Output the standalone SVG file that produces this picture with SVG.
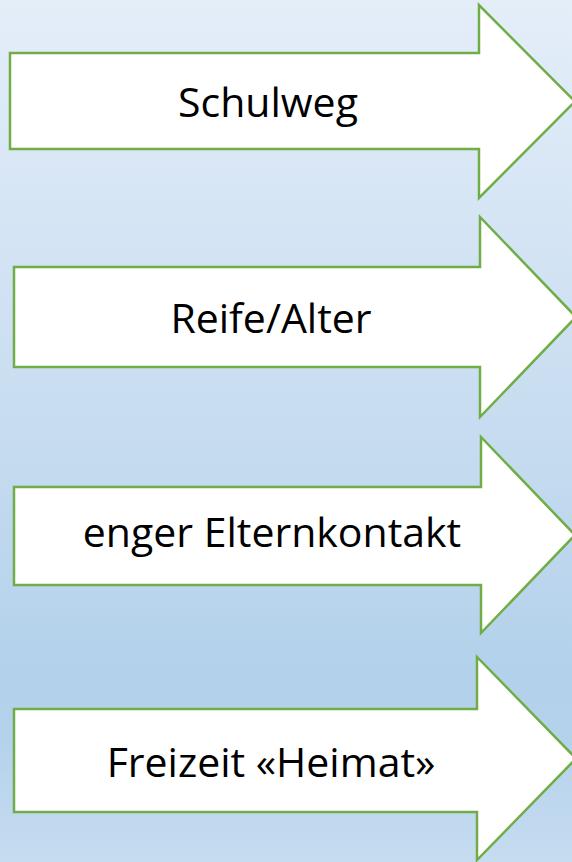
<svg xmlns="http://www.w3.org/2000/svg" width="572" height="862" viewBox="0 0 572 862">
<defs>
<linearGradient id="bg" x1="0" y1="0" x2="0" y2="1">
<stop offset="0" stop-color="#e4eef9"/>
<stop offset="0.5" stop-color="#c7dcf0"/>
<stop offset="0.78" stop-color="#b3d1eb"/>
<stop offset="0.86" stop-color="#b5d2ec"/>
<stop offset="1" stop-color="#c6dcf0"/>
</linearGradient>
<style>
.arrow{fill:#ffffff;stroke:#70ad47;stroke-width:2.5;stroke-linejoin:miter}
.label{font-family:"Open Sans","DejaVu Sans",sans-serif;font-size:41px;fill:#000000;text-anchor:middle}
</style>
</defs>
<rect x="0" y="0" width="572" height="862" fill="url(#bg)"/>
<g id="connectors"/>
<g id="node-schulweg">
<path class="arrow" d="M10,53 H479 V5 L575,101.5 L479,198 V149 H10 Z"/>
<text class="label" x="268" y="117">Schulweg</text>
</g>
<g id="node-reife">
<path class="arrow" d="M14,267 H480 V217 L576,317 L480,417 V367 H14 Z"/>
<text class="label" x="271" y="333">Reife/Alter</text>
</g>
<g id="node-eltern">
<path class="arrow" d="M14,487 H481 V437 L575,535 L481,633 V585 H14 Z"/>
<text class="label" x="272" y="547">enger Elternkontakt</text>
</g>
<g id="node-freizeit">
<path class="arrow" d="M14,709 H477 V657 L576,758.5 L477,860 V812 H14 Z"/>
<text class="label" x="271" y="777">Freizeit «Heimat»</text>
</g>
</svg>
